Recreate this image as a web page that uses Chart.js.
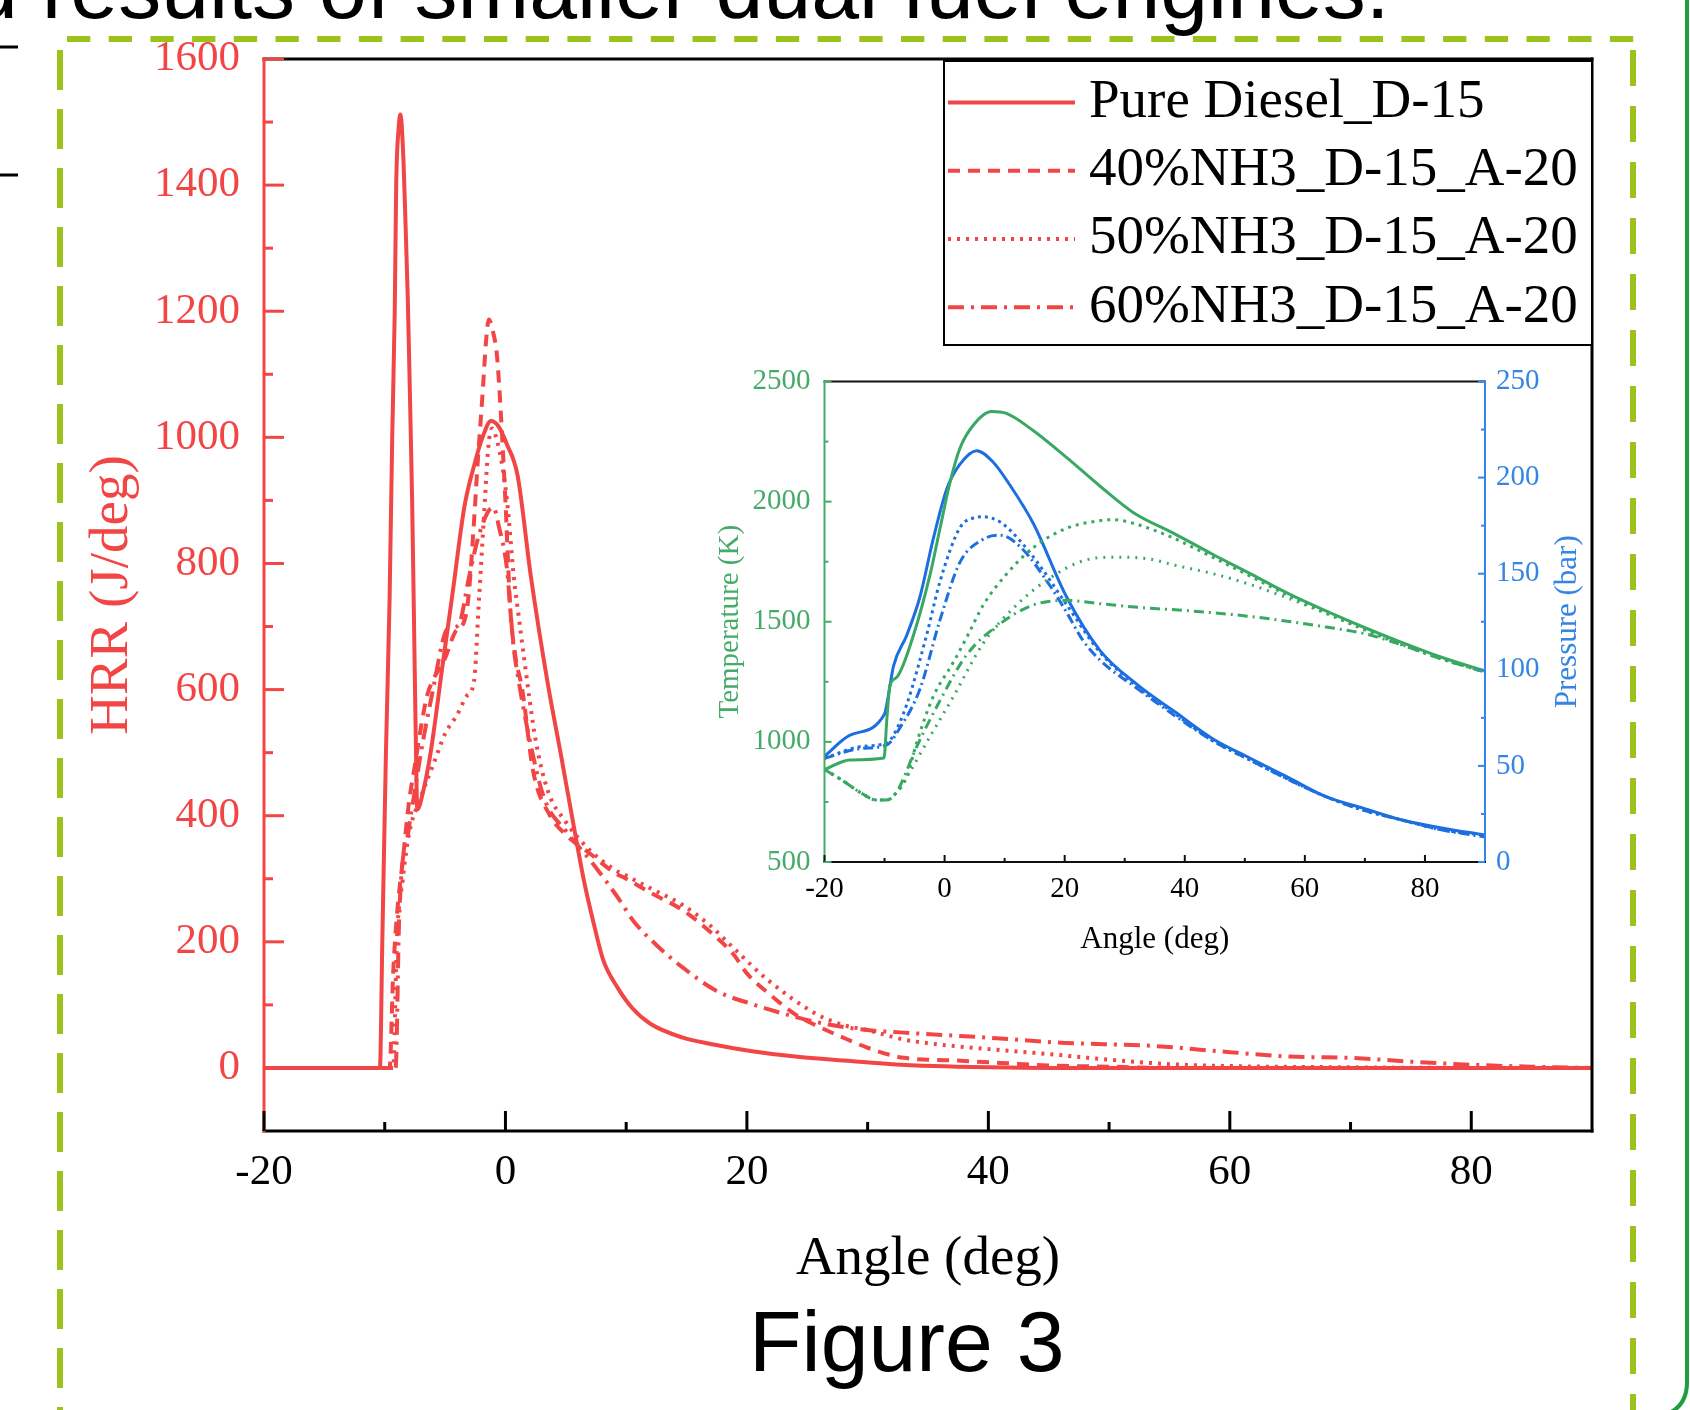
<!DOCTYPE html>
<html>
<head>
<meta charset="utf-8">
<title>Figure 3</title>
<script src="https://cdn.jsdelivr.net/npm/chart.js@4.4.1/dist/chart.umd.min.js"></script>
<style>
  html, body { margin: 0; padding: 0; background: #fff; }
  body { width: 1690px; height: 1410px; position: relative; overflow: hidden; }
  #deco { position: absolute; left: 0; top: 0; }
  #mainChart { position: absolute; left: 0; top: 0; }
  #insetChart { position: absolute; left: 640px; top: 350px; }
</style>
</head>
<body>
<svg id="deco" width="1690" height="1410" xmlns="http://www.w3.org/2000/svg">
  <g font-family="'Liberation Sans', Arial, sans-serif" font-size="86" fill="#000">
    <text x="-30" y="18">d results of smaller dual fuel engines.</text>
    <text x="749" y="1371">Figure 3</text>
  </g>
  <line x1="0" y1="47" x2="18" y2="47" stroke="#000" stroke-width="3"/>
  <line x1="0" y1="175" x2="18" y2="175" stroke="#000" stroke-width="3"/>
  <g stroke="#9cc21c" stroke-width="6" fill="none">
    <line x1="67" y1="39" x2="1636" y2="39" stroke-dasharray="23.3 18.4"/>
    <line x1="60" y1="50" x2="60" y2="1410" stroke-dasharray="40 19"/>
    <line x1="1633" y1="50" x2="1633" y2="1410" stroke-dasharray="36 20"/>
  </g>
  <path d="M1687 0 V1382 Q1687 1410 1660 1416" stroke="#1f9d3f" stroke-width="4" fill="none"/>
</svg>
<canvas id="mainChart" width="1690" height="1410"></canvas>
<canvas id="insetChart" width="960" height="620"></canvas>
<script>
// ---- main chart: heat release rate ----
const hrrLabels = ['Pure Diesel_D-15', '40%NH3_D-15_A-20', '50%NH3_D-15_A-20', '60%NH3_D-15_A-20'];

const dieselAngle = [-20, -10.4, -10.2, -9.9, -9.6, -9.38, -9.17, -9.05, -8.85, -8.7, -8.45, -8.28, -8.09, -7.95, -7.73, -7.6, -7.45, -7.3, -6.8, -6.2, -5.2, -4.4, -3.4, -2.6, -1.9, -1.2, -0.6, 0.1, 1.0, 2.1, 3.5, 4.6, 5.5, 6.5, 7.3, 8.1, 9.3, 10.5, 12, 14.7, 17, 20.3, 24, 28.6, 32, 35.5, 40, 45, 90];
const dieselHRR = [0, 0, 200, 500, 741, 1000, 1200, 1400, 1490, 1512, 1440, 1340, 1220, 1100, 900, 740, 550, 410, 440, 500, 640, 750, 890, 955, 1000, 1026, 1018, 990, 940, 780, 610, 496, 400, 297, 230, 171, 127, 95, 70, 48, 38, 27, 18, 11, 6, 3, 1, 0, 0];

const nh3_40Angle = [-20, -9.6, -9.3, -9.0, -8.5, -8.0, -7.5, -7.0, -6.5, -6.0, -5.0, -4.2, -3.3, -3.0, -2.6, -2.3, -1.9, -1.6, -1.38, -1.0, -0.7, -0.4, 0, 0.4, 0.8, 1.4, 2.3, 3.7, 5, 7, 9, 10, 12, 14.7, 17, 18.9, 20, 22, 24, 26, 28.6, 30, 33, 37, 41, 45, 50, 55, 90];
const nh3_40HRR = [0, 0, 150, 240, 330, 420, 480, 540, 590, 615, 650, 690, 716, 760, 868, 960, 1068, 1154, 1187, 1165, 1129, 1044, 898, 728, 656, 599, 470, 400, 370, 340, 310, 300, 278, 250, 215, 180, 150, 115, 85, 65, 43, 32, 16, 12, 8, 4, 2, 0, 0];

const nh3_50Angle = [-20, -9.3, -9.0, -8.5, -8.0, -7.0, -6.0, -5.0, -4.0, -3.2, -2.6, -2.2, -1.8, -1.4, -1.1, -0.7, -0.3, 0.14, 0.7, 1.1, 1.5, 2.5, 3.5, 5, 7, 9, 10, 12, 14.7, 17, 18.9, 21.7, 25.8, 28, 30, 33, 36, 40, 45, 50, 55, 60, 70, 80, 90];
const nh3_50HRR = [0, 0, 200, 300, 370, 430, 480, 530, 560, 590, 614, 740, 868, 989, 1014, 995, 959, 898, 777, 716, 656, 520, 440, 390, 345, 315, 305, 285, 258, 225, 190, 140, 85, 68, 60, 45, 37, 30, 22, 13, 6, 3, 1, 0, 0];

const nh3_60Angle = [-20, -9.1, -8.8, -8.0, -7.5, -7.0, -6.0, -5.0, -4.55, -3.9, -3.0, -2.3, -1.5, -1.0, -0.55, 0.14, 0.4, 0.67, 1.0, 1.9, 3.2, 5, 7.2, 9.5, 10.6, 12.5, 14.7, 17.5, 20.3, 24.4, 27, 30, 33, 40, 46, 53.6, 60, 65, 70, 75, 80, 85, 90];
const nh3_60HRR = [0, 0, 240, 380, 440, 500, 600, 690, 698, 702, 780, 838, 880, 889, 859, 789, 728, 668, 625, 530, 428, 376, 325, 265, 233, 195, 159, 122, 102, 79, 68, 60, 56, 48, 40, 35, 25, 18, 16, 10, 5, 2, 0];

const angleTicks = [-20, 0, 20, 40, 60, 80];
const angleMinor = [-10, 10, 30, 50, 70];
const hrrTicks = [0, 200, 400, 600, 800, 1000, 1200, 1400, 1600];
const hrrMinor = [100, 300, 500, 700, 900, 1100, 1300, 1500];

// ---- inset: temperature and pressure ----
const tempDieselAngle = [-20, -15.75, -10.1, -9.6, -9.1, -8.0, -5.2, -2.4, -0.76, 0.9, 2.57, 4.8, 7.8, 10.3, 14.8, 20.3, 25.9, 31.4, 38.4, 44.7, 50.9, 57, 63.5, 70, 76, 83, 90];
const tempDiesel = [885, 925, 933, 1100, 1236, 1268, 1443, 1698, 1889, 2080, 2223, 2319, 2375, 2367, 2295, 2184, 2064, 1955, 1865, 1780, 1700, 1620, 1545, 1475, 1415, 1350, 1295];

const tempAAngle = [-20, -16.9, -14.1, -11.3, -9.6, -8.0, -6.3, -4.65, -1.9, 1.45, 4, 6.45, 10.3, 14.8, 20.3, 25.9, 28, 31.4, 35, 38.4, 44.7, 50.9, 57, 63.5, 70, 76, 83, 90];
const tempA = [885, 838, 790, 758, 758, 790, 854, 997, 1188, 1331, 1450, 1570, 1698, 1809, 1889, 1921, 1925, 1910, 1880, 1845, 1768, 1690, 1612, 1538, 1468, 1408, 1345, 1292];

const tempBAngle = [-20, -16.9, -14.1, -11.3, -9.6, -8.0, -6.3, -1.9, 1.45, 6.45, 12, 17.55, 23.1, 28.7, 34.2, 38.4, 44.7, 50.9, 57, 63.5, 70, 76, 83, 90];
const tempB = [885, 838, 790, 758, 758, 790, 854, 1045, 1188, 1411, 1570, 1682, 1754, 1769, 1761, 1735, 1700, 1655, 1600, 1535, 1465, 1405, 1343, 1290];

const tempCAngle = [-20, -16.9, -14.1, -11.3, -9.6, -8.0, -6.3, -5.2, -0.76, 3.7, 9.2, 14.8, 20.3, 25.9, 34.2, 38.4, 50.9, 63.5, 70, 76, 83, 90];
const tempC = [885, 838, 790, 758, 758, 790, 880, 949, 1172, 1363, 1491, 1570, 1589, 1575, 1556, 1550, 1522, 1478, 1450, 1405, 1343, 1290];

const presDieselAngle = [-20, -15.75, -10.0, -9.4, -8.5, -6.3, -4.1, -1.9, 0.35, 2.57, 5.35, 8.1, 10.9, 14.8, 20.3, 25.9, 32.2, 38.4, 44.7, 50.9, 57.2, 63.5, 69.7, 76, 82.3, 90];
const presDiesel = [55, 66, 77, 86, 102, 118, 138, 168, 194, 207, 214, 208, 196, 176, 138, 110, 92, 78, 64, 54, 44, 34, 28, 22, 18, 14];

const presAAngle = [-20, -14.1, -9.6, -8.5, -6.3, -3, -0.76, 2.57, 4.8, 6.45, 9.2, 12.6, 15.9, 20.3, 25.9, 32.2, 38.4, 44.7, 50.9, 57.2, 63.5, 69.7, 76, 82.3, 90];
const presA = [54, 60, 62, 66, 82, 118, 146, 174, 179, 179.6, 177, 167, 154, 134, 109, 91, 77, 63, 53, 43, 34, 27, 22, 17, 14];

const presCAngle = [-20, -14.1, -9.6, -7.4, -4.1, -0.76, 2.57, 6.45, 9.2, 12.6, 17.5, 20.3, 23.1, 25.9, 32.2, 38.4, 44.7, 50.9, 57.2, 63.5, 69.7, 76, 82.3, 90];
const presC = [54, 59, 61, 70, 90, 126, 156, 168, 170, 164, 144, 130, 115, 105, 90, 76, 63, 53, 43, 34, 27, 22, 17, 13];

const tempTicks = [500, 1000, 1500, 2000, 2500];
const tempMinor = [750, 1250, 1750, 2250];
const presTicks = [0, 50, 100, 150, 200, 250];
const presMinor = [25, 75, 125, 175, 225];

// ---- styles ----
const serif = '"Liberation Serif", "Times New Roman", serif';
const RED = '#f24646';
const GREEN = '#38a862';
const GREEN_TXT = '#45ab69';
const BLUE = '#1c6fe0';
const BLUE_TXT = '#3584e6';
const DASH = [12, 8];
const DOT = [3, 6];
const DASHDOT = [16, 7, 3, 7];

function pts(xs, ys) {
  return xs.map((x, i) => ({ x: x, y: ys[i] }));
}

function line(label, xs, ys, color, dash, width, axis) {
  const ds = {
    label: label,
    data: pts(xs, ys),
    borderColor: color,
    borderDash: dash,
    borderWidth: width,
    pointRadius: 0,
    fill: false,
    cubicInterpolationMode: 'monotone'
  };
  if (axis) ds.yAxisID = axis;
  return ds;
}

function fixTicks(values) {
  return scale => { scale.ticks = values.map(v => ({ value: v })); };
}

// plain numbers, no thousands separator
const plain = v => String(v);

// frame round the plot and ticks pointing inwards
const framePlugin = {
  id: 'frame',
  afterDatasetsDraw(chart, args, opts) {
    const ctx = chart.ctx;
    const a = chart.chartArea;
    ctx.save();
    ctx.lineWidth = opts.width;
    ctx.lineCap = 'square';
    const side = (color, x1, y1, x2, y2) => {
      ctx.strokeStyle = color;
      ctx.beginPath(); ctx.moveTo(x1, y1); ctx.lineTo(x2, y2); ctx.stroke();
    };
    side(opts.top, a.left, a.top, a.right, a.top);
    side(opts.right, a.right, a.top, a.right, a.bottom);
    side(opts.bottom, a.left, a.bottom, a.right, a.bottom);
    side(opts.left, a.left, a.top, a.left, a.bottom);

    ctx.lineCap = 'butt';
    opts.ticks.forEach(t => {
      const scale = chart.scales[t.scale];
      ctx.strokeStyle = t.color;
      const draw = (v, len) => {
        const p = scale.getPixelForValue(v);
        ctx.beginPath();
        if (t.edge === 'bottom') { ctx.moveTo(p, a.bottom); ctx.lineTo(p, a.bottom - len); }
        else if (t.edge === 'left') { ctx.moveTo(a.left, p); ctx.lineTo(a.left + len, p); }
        else { ctx.moveTo(a.right, p); ctx.lineTo(a.right - len, p); }
        ctx.stroke();
      };
      t.major.forEach(v => draw(v, opts.majorLen));
      t.minor.forEach(v => draw(v, opts.minorLen));
    });
    ctx.restore();
  }
};

// boxed legend in the top right corner of the main plot
const boxLegend = {
  id: 'boxLegend',
  afterDraw(chart) {
    const ctx = chart.ctx;
    const a = chart.chartArea;
    const left = 944, top = 61, bottom = 345;
    ctx.save();
    ctx.fillStyle = '#fff';
    ctx.fillRect(left, top, a.right - left, bottom - top);
    ctx.strokeStyle = '#000';
    ctx.lineWidth = 2;
    ctx.strokeRect(left, top, a.right - left, bottom - top);
    chart.data.datasets.forEach((ds, i) => {
      const y = 102.4 + i * 68.3;
      ctx.strokeStyle = ds.borderColor;
      ctx.lineWidth = 4;
      ctx.setLineDash(ds.borderDash || []);
      ctx.beginPath(); ctx.moveTo(948, y); ctx.lineTo(1075, y); ctx.stroke();
      ctx.setLineDash([]);
      ctx.fillStyle = '#000';
      ctx.font = '55px ' + serif;
      ctx.textBaseline = 'middle';
      ctx.fillText(ds.label, 1089, y);
    });
    ctx.restore();
  }
};

// right axis title reads bottom to top, like the left one
const pressureTitle = {
  id: 'pressureTitle',
  afterDraw(chart) {
    const s = chart.scales.yP;
    const ctx = chart.ctx;
    ctx.save();
    ctx.translate(928, (s.top + s.bottom) / 2);
    ctx.rotate(-Math.PI / 2);
    ctx.fillStyle = BLUE_TXT;
    ctx.font = '31px ' + serif;
    ctx.textAlign = 'center';
    ctx.textBaseline = 'middle';
    ctx.fillText('Pressure (bar)', 0, 0);
    ctx.restore();
  }
};

new Chart(document.getElementById('mainChart'), {
  type: 'line',
  data: {
    datasets: [
      line(hrrLabels[0], dieselAngle, dieselHRR, RED, [], 4),
      line(hrrLabels[1], nh3_40Angle, nh3_40HRR, RED, DASH, 4),
      line(hrrLabels[2], nh3_50Angle, nh3_50HRR, RED, DOT, 4),
      line(hrrLabels[3], nh3_60Angle, nh3_60HRR, RED, DASHDOT, 4)
    ]
  },
  options: {
    responsive: false,
    animation: false,
    devicePixelRatio: 1,
    layout: { padding: { left: 0, top: 59, right: 98, bottom: 117 } },
    plugins: {
      legend: { display: false },
      tooltip: { enabled: false },
      frame: {
        width: 3, top: '#000', right: '#000', bottom: '#000', left: RED,
        majorLen: 20, minorLen: 9,
        ticks: [
          { scale: 'x', edge: 'bottom', major: angleTicks, minor: angleMinor, color: '#000' },
          { scale: 'y', edge: 'left', major: hrrTicks, minor: hrrMinor, color: RED }
        ]
      }
    },
    scales: {
      x: {
        type: 'linear', min: -20, max: 90,
        afterBuildTicks: fixTicks(angleTicks),
        afterFit: s => { s.height = 162; },
        grid: { display: false, drawTicks: false },
        border: { display: false },
        ticks: { padding: 16, color: '#000', font: { family: serif, size: 43 }, maxRotation: 0, autoSkip: false, callback: plain },
        title: { display: true, text: 'Angle (deg)', color: '#000', font: { family: serif, size: 55 }, padding: { top: 0, bottom: 0 } }
      },
      y: {
        type: 'linear', min: -100, max: 1600,
        afterBuildTicks: fixTicks(hrrTicks),
        afterFit: s => { s.width = 264; },
        grid: { display: false, drawTicks: false },
        border: { display: false },
        ticks: { padding: 24, color: RED, font: { family: serif, size: 43 }, autoSkip: false, callback: plain },
        title: { display: true, text: 'HRR (J/deg)', color: RED, font: { family: serif, size: 55 }, padding: { top: 80, bottom: 0 } }
      }
    }
  },
  plugins: [framePlugin, boxLegend]
});

new Chart(document.getElementById('insetChart'), {
  type: 'line',
  data: {
    datasets: [
      line('T Pure Diesel', tempDieselAngle, tempDiesel, GREEN, [], 3, 'yT'),
      line('T 40%NH3', tempAAngle, tempA, GREEN, [3, 5], 3, 'yT'),
      line('T 50%NH3', tempBAngle, tempB, GREEN, [2, 6], 3, 'yT'),
      line('T 60%NH3', tempCAngle, tempC, GREEN, [10, 5, 2, 5], 3, 'yT'),
      line('P Pure Diesel', presDieselAngle, presDiesel, BLUE, [], 3, 'yP'),
      line('P 40%NH3', presAAngle, presA, BLUE, [3, 4], 3, 'yP'),
      line('P 60%NH3', presCAngle, presC, BLUE, [10, 4, 2, 4], 3, 'yP')
    ]
  },
  options: {
    responsive: false,
    animation: false,
    devicePixelRatio: 1,
    layout: { padding: { left: 0, top: 31.5, right: 0, bottom: 0 } },
    plugins: {
      legend: { display: false },
      tooltip: { enabled: false },
      frame: {
        width: 2, top: '#111', right: BLUE_TXT, bottom: '#111', left: GREEN_TXT,
        majorLen: 7, minorLen: 4,
        ticks: [
          { scale: 'x', edge: 'bottom', major: angleTicks, minor: angleMinor, color: '#111' },
          { scale: 'yT', edge: 'left', major: tempTicks, minor: tempMinor, color: GREEN_TXT },
          { scale: 'yP', edge: 'right', major: presTicks, minor: presMinor, color: BLUE_TXT }
        ]
      }
    },
    scales: {
      x: {
        type: 'linear', min: -20, max: 90,
        afterBuildTicks: fixTicks(angleTicks),
        afterFit: s => { s.height = 108; },
        grid: { display: false, drawTicks: false },
        border: { display: false },
        ticks: { padding: 10, color: '#000', font: { family: serif, size: 29 }, maxRotation: 0, autoSkip: false, callback: plain },
        title: { display: true, text: 'Angle (deg)', color: '#000', font: { family: serif, size: 31 }, padding: { top: 0, bottom: 12 } }
      },
      yT: {
        type: 'linear', position: 'left', min: 500, max: 2500,
        afterBuildTicks: fixTicks(tempTicks),
        afterFit: s => { s.width = 184.5; },
        grid: { display: false, drawTicks: false },
        border: { display: false },
        ticks: { padding: 14, color: GREEN_TXT, font: { family: serif, size: 29 }, autoSkip: false, callback: plain },
        title: { display: true, text: 'Temperature (K)', color: GREEN_TXT, font: { family: serif, size: 29 }, padding: { top: 72.6, bottom: 0 } }
      },
      yP: {
        type: 'linear', position: 'right', min: 0, max: 250,
        afterBuildTicks: fixTicks(presTicks),
        afterFit: s => { s.width = 115; },
        grid: { display: false, drawTicks: false },
        border: { display: false },
        ticks: { padding: 11, color: BLUE_TXT, font: { family: serif, size: 29 }, autoSkip: false, callback: plain },
        title: { display: false }
      }
    }
  },
  plugins: [framePlugin, pressureTitle]
});
</script>
</body>
</html>
